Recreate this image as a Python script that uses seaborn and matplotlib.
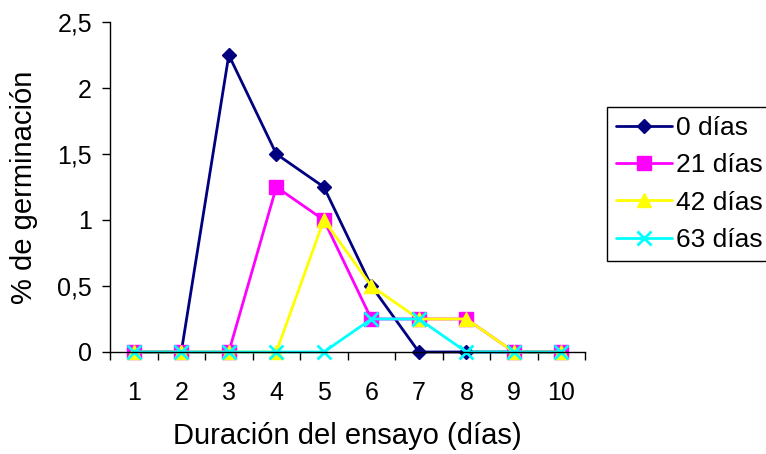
import matplotlib
matplotlib.use("Agg")
import matplotlib.pyplot as plt
import seaborn as sns
import pandas as pd
import numpy as np

dias = [1, 2, 3, 4, 5, 6, 7, 8, 9, 10]
s0 = [0, 0, 2.25, 1.5, 1.25, 0.5, 0, 0, 0, 0]
s21 = [0, 0, 0, 1.25, 1.0, 0.25, 0.25, 0.25, 0, 0]
s42 = [0, 0, 0, 0, 1.0, 0.5, 0.25, 0.25, 0, 0]
s63 = [0, 0, 0, 0, 0, 0.25, 0.25, 0, 0, 0]
series_names = ["0 días", "21 días", "42 días", "63 días"]
yticks = [0, 0.5, 1, 1.5, 2, 2.5]
ytick_labels = ["0", "0,5", "1", "1,5", "2", "2,5"]

sns.set_theme(style="white")
plt.rcParams['font.family'] = ['Liberation Sans', 'DejaVu Sans']
plt.rcParams['text.color'] = 'black'
plt.rcParams['axes.labelcolor'] = 'black'
plt.rcParams['xtick.color'] = 'black'
plt.rcParams['ytick.color'] = 'black'

fig = plt.figure(figsize=(7.66, 4.54), dpi=100)
ax = fig.add_axes([0.1436, 0.2247, 0.764 - 0.1436, 0.9515 - 0.2247])

colors = ["#000080", "#FF00FF", "#FFFF00", "#00FFFF"]
markers = ["D", "s", "^", "x"]
msizes = [7.5, 9.5, 10, 10]
for vals, name, c, m, ms in zip([s0, s21, s42, s63], series_names, colors, markers, msizes):
    df = pd.DataFrame({"x": dias, "y": vals})
    sns.lineplot(data=df, x="x", y="y", ax=ax, color=c, marker=m, markersize=ms,
                 markeredgecolor=c, markeredgewidth=2 if m == "x" else 1,
                 linewidth=2, label=name, clip_on=False)

ax.set_xlim(0.5, 10.5)
ax.set_ylim(0, 2.5)
ax.set_xticks(dias)
ax.set_xticklabels([str(d) for d in dias], fontsize=18)
ax.set_xticks(np.arange(0.5, 11, 1), minor=True)
ax.tick_params(axis="x", which="major", length=0, pad=21, labelcolor="black")
ax.tick_params(axis="x", which="minor", length=6, direction="out", width=1, color="black", bottom=True)
ax.set_yticks(yticks)
ax.set_yticklabels(ytick_labels, fontsize=18)
ax.tick_params(axis="y", which="major", length=6, direction="out", width=1, color="black", left=True, pad=7,
               labelcolor="black")
for s in ["top", "right"]:
    ax.spines[s].set_visible(False)
for s in ["left", "bottom"]:
    ax.spines[s].set_color("black")
    ax.spines[s].set_linewidth(1)

ax.set_xlabel("Duración del ensayo (días)", fontsize=21, labelpad=12, color="black")
ax.set_ylabel("% de germinación", fontsize=21, labelpad=14, color="black")

leg = ax.legend(loc="upper left", bbox_to_anchor=(607 / 766, 1 - 107 / 454), bbox_transform=fig.transFigure,
                fontsize=19, frameon=True, fancybox=False, edgecolor="black", handlelength=2.1,
                handletextpad=0.15, borderpad=0.35, labelspacing=0.5, borderaxespad=0, framealpha=1)
leg.get_frame().set_linewidth(1)
for t in leg.get_texts():
    t.set_color("black")

fig.savefig("out.png", dpi=100)
